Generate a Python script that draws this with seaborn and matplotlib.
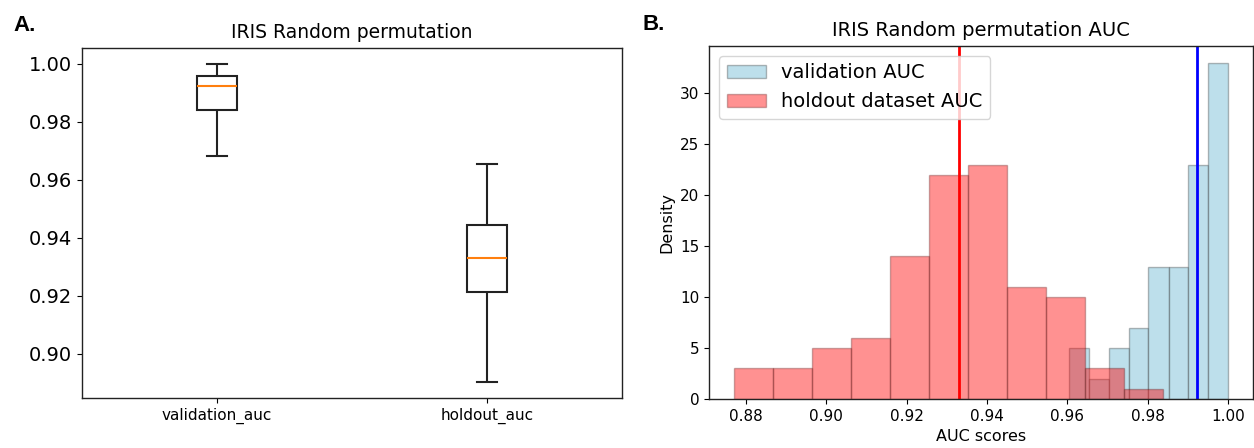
import numpy as np
import pandas as pd
import matplotlib
matplotlib.use("Agg")
import matplotlib.pyplot as plt
import seaborn as sns

# ---- data ----
box_categories = ["validation_auc", "holdout_auc"]
# five-number summaries: lower whisker, Q1, median, Q3, upper whisker
validation_box = [0.9680, 0.9841, 0.9922, 0.9956, 1.0000]
holdout_box = [0.8901, 0.9212, 0.9329, 0.9443, 0.9655]

validation_edges = [0.9605, 0.9654, 0.9704, 0.9753, 0.9802, 0.9852, 0.9901, 0.9951, 1.0000]
validation_density = [5, 2, 5, 7, 13, 13, 23, 33]
holdout_edges = [0.8770, 0.8867, 0.8964, 0.9062, 0.9159, 0.9256, 0.9353,
                 0.9450, 0.9548, 0.9645, 0.9742, 0.9839]
holdout_density = [3, 3, 5, 6, 14, 22, 23, 11, 10, 3, 1]
validation_median = 0.9922
holdout_median = 0.9329

plt.rcParams['font.family'] = ['DejaVu Sans']

fig = plt.figure(figsize=(12.54, 4.48), dpi=100)
ax1 = fig.add_axes([81.7 / 1254, 1 - 398.3 / 448, (622.3 - 81.7) / 1254, (398.3 - 47.7) / 448])
ax2 = fig.add_axes([709.3 / 1254, 1 - 399 / 448, (1252.7 - 709.3) / 1254, (399 - 46) / 448])

# ---- panel A: boxplot ----
box_df = pd.DataFrame({
    "metric": [box_categories[0]] * len(validation_box) + [box_categories[1]] * len(holdout_box),
    "auc": validation_box + holdout_box,
})
sns.boxplot(data=box_df, x="metric", y="auc", order=box_categories, width=0.15,
            color="white", linecolor="#222222", linewidth=1.5, showfliers=False,
            medianprops=dict(color="#ff7f0e", linewidth=1.5), ax=ax1)
ax1.set_xlabel("")
ax1.set_ylabel("")
ax1.set_title("IRIS Random permutation", fontsize=13.5, pad=7)
ax1.tick_params(axis="y", labelsize=14)
ax1.tick_params(axis="x", labelsize=11)

# ---- panel B: histograms ----
def centers(edges):
    e = np.asarray(edges)
    return (e[:-1] + e[1:]) / 2

sns.histplot(x=centers(validation_edges), weights=validation_density, bins=validation_edges,
             stat="count", color="lightblue", alpha=0.8, edgecolor=(0.1, 0.1, 0.1, 0.3),
             linewidth=1.0, label="validation AUC", ax=ax2)
sns.histplot(x=centers(holdout_edges), weights=holdout_density, bins=holdout_edges,
             stat="count", color="red", alpha=0.43, edgecolor=(0.3, 0.05, 0.05, 0.3),
             linewidth=1.0, label="holdout dataset AUC", ax=ax2)
ax2.axvline(holdout_median, color="red", linewidth=2)
ax2.axvline(validation_median, color="blue", linewidth=2)
ax2.set_title("IRIS Random permutation AUC", fontsize=14, pad=7)
ax2.set_xlabel("AUC scores", fontsize=11.5)
ax2.set_ylabel("Density", fontsize=11.5)
ax2.tick_params(labelsize=11)
ax2.legend(loc="upper left", fontsize=14, framealpha=0.8)

for ax in (ax1, ax2):
    for s in ax.spines.values():
        s.set_linewidth(1.0)
        s.set_color("#222222")

fig.text(13 / 1254, 1 - 31 / 448, "A.", fontsize=16, fontweight="bold",
         family="Liberation Sans", va="baseline")
fig.text(642 / 1254, 1 - 30 / 448, "B.", fontsize=16, fontweight="bold",
         family="Liberation Sans", va="baseline")

fig.savefig("out.png", dpi=100)
